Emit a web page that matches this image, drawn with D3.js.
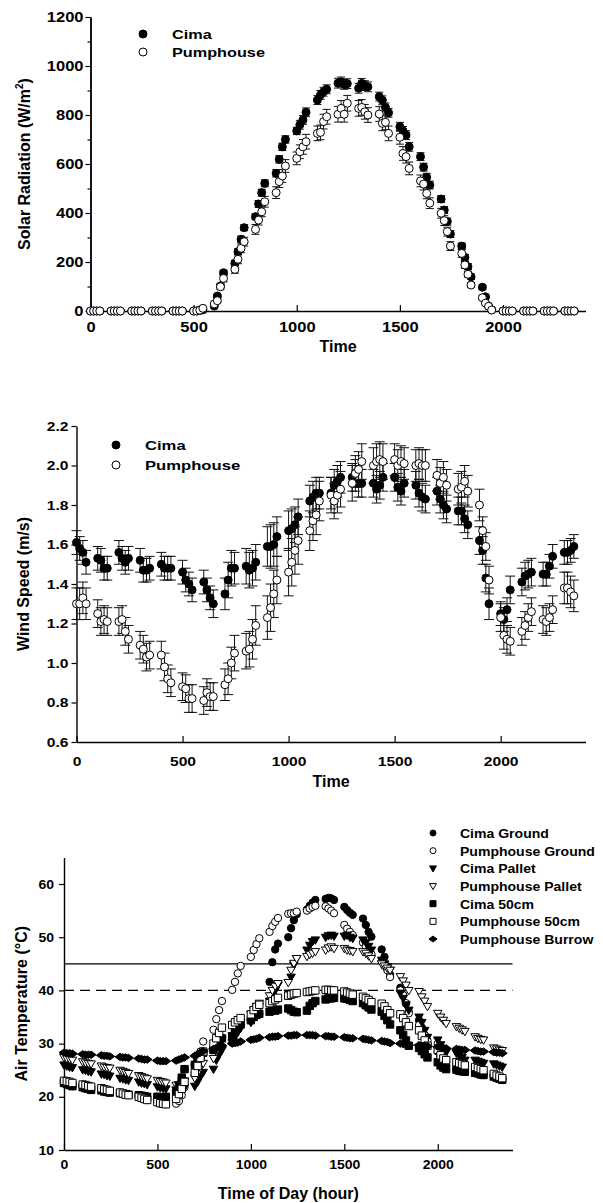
<!DOCTYPE html>
<html>
<head>
<meta charset="utf-8">
<script src="https://cdn.jsdelivr.net/npm/d3@7"></script>
<style>
  body { margin: 0; background: #fff; }
  text { font-family: "Liberation Sans", Arial, sans-serif; font-weight: bold; fill: #000; }
  .tk-y { transform-box: fill-box; transform-origin: right center; }
  .tk-x { transform-box: fill-box; transform-origin: center; }
  .lg { transform-box: fill-box; transform-origin: left center; }
</style>
</head>
<body>
<svg id="chart" width="603" height="1203"></svg>
<script>
// clock time (HHMM), one reading every 15 min
const times = [
  0, 15, 30, 45, 100, 115, 130, 145, 200, 215, 230, 245, 300, 315, 330, 345,
  400, 415, 430, 445, 500, 515, 530, 545, 600, 615, 630, 645, 700, 715, 730, 745,
  800, 815, 830, 845, 900, 915, 930, 945, 1000, 1015, 1030, 1045, 1100, 1115, 1130, 1145,
  1200, 1215, 1230, 1245, 1300, 1315, 1330, 1345, 1400, 1415, 1430, 1445, 1500, 1515, 1530, 1545,
  1600, 1615, 1630, 1645, 1700, 1715, 1730, 1745, 1800, 1815, 1830, 1845, 1900, 1915, 1930, 1945,
  2000, 2015, 2030, 2045, 2100, 2115, 2130, 2145, 2200, 2215, 2230, 2245, 2300, 2315, 2330, 2345
];
const xTicks = [0, 500, 1000, 1500, 2000];

// ---- solar radiation (W/m2)
const solarCima = [
  0, 0, 0, 0, 0, 0, 0, 0, 0, 0, 0, 0, 0, 0, 0, 0,
  0, 0, 0, 0, 0, 0, 2, 5, 20, 61, 102, 156, 195, 242, 293, 340,
  385, 437, 483, 521, 562, 619, 670, 700, 735, 760, 780, 811, 861, 882, 895, 905,
  930, 935, 925, 928, 909, 929, 920, 915, 875, 860, 831, 809, 752, 735, 718, 670,
  630, 587, 546, 514, 457, 412, 365, 314, 265, 219, 181, 140, 97, 58, 20, 5,
  0, 0, 0, 0, 0, 0, 0, 0, 0, 0, 0, 0, 0, 0, 0, 0
];
const solarCimaErr = [
  0, 0, 0, 0, 0, 0, 0, 0, 0, 0, 0, 0, 0, 0, 0, 0,
  0, 0, 0, 0, 0, 0, 0, 0, 4, 6, 8, 10, 12, 12, 12, 12,
  12, 14, 14, 14, 15, 15, 15, 15, 15, 18, 18, 18, 18, 18, 18, 18,
  20, 20, 20, 20, 20, 20, 20, 20, 18, 18, 18, 18, 18, 18, 18, 18,
  16, 16, 16, 16, 14, 14, 14, 14, 12, 12, 12, 10, 8, 6, 4, 0,
  0, 0, 0, 0, 0, 0, 0, 0, 0, 0, 0, 0, 0, 0, 0, 0
];
const solarPump = [
  0, 0, 0, 0, 0, 0, 0, 0, 0, 0, 0, 0, 0, 0, 0, 0,
  0, 0, 0, 0, 0, 0, 3, 11, 29, 42, 99, 133, 170, 211, 256, 283,
  333, 371, 405, 446, 483, 528, 551, 592, 623, 650, 670, 691, 725, 729, 773, 793,
  803, 827, 803, 848, 827, 831, 813, 800, 804, 766, 770, 725, 709, 643, 630, 582,
  531, 518, 480, 440, 399, 369, 324, 265, 235, 188, 150, 106, 54, 32, 19, 4,
  0, 0, 0, 0, 0, 0, 0, 0, 0, 0, 0, 0, 0, 0, 0, 0
];
const solarPumpErr = [
  0, 0, 0, 0, 0, 0, 0, 0, 0, 0, 0, 0, 0, 0, 0, 0,
  0, 0, 0, 0, 0, 0, 0, 0, 5, 8, 12, 14, 16, 18, 18, 18,
  20, 20, 20, 22, 24, 24, 26, 26, 26, 28, 30, 30, 30, 30, 30, 30,
  32, 32, 32, 32, 32, 32, 30, 30, 30, 30, 30, 30, 28, 28, 26, 26,
  24, 24, 22, 22, 20, 20, 18, 18, 16, 14, 12, 10, 8, 6, 4, 0,
  0, 0, 0, 0, 0, 0, 0, 0, 0, 0, 0, 0, 0, 0, 0, 0
];

// ---- wind speed (m/s)
const windCima = [
  1.61, 1.58, 1.56, 1.51, 1.53, 1.52, 1.48, 1.48, 1.56, 1.53, 1.51, 1.53, 1.52, 1.47, 1.47, 1.48,
  1.50, 1.48, 1.48, 1.48, 1.46, 1.42, 1.40, 1.37, 1.41, 1.37, 1.33, 1.30, 1.35, 1.42, 1.48, 1.48,
  1.49, 1.47, 1.48, 1.51, 1.59, 1.59, 1.60, 1.64, 1.67, 1.68, 1.70, 1.74, 1.82, 1.84, 1.86, 1.86,
  1.86, 1.90, 1.92, 1.94, 1.94, 1.96, 1.91, 1.91, 1.91, 1.88, 1.90, 1.94, 1.94, 1.89, 1.87, 1.91,
  1.90, 1.86, 1.84, 1.83, 1.87, 1.83, 1.80, 1.78, 1.77, 1.77, 1.73, 1.70, 1.62, 1.57, 1.43, 1.30,
  1.25, 1.22, 1.27, 1.37, 1.41, 1.44, 1.45, 1.46, 1.45, 1.45, 1.49, 1.54, 1.56, 1.56, 1.57, 1.59
];
const windCimaErr = [
  .06, .06, .06, .06, .06, .06, .06, .06, .06, .06, .06, .06, .06, .06, .06, .06,
  .06, .06, .06, .06, .06, .06, .06, .06, .06, .06, .06, .07, .08, .09, .09, .08,
  .09, .09, .09, .09, .10, .11, .11, .10, .10, .10, .09, .09, .08, .08, .08, .08,
  .08, .08, .08, .08, .07, .07, .07, .07, .07, .07, .07, .07, .07, .07, .07, .07,
  .07, .07, .07, .07, .07, .07, .07, .07, .07, .07, .07, .07, .07, .07, .07, .08,
  .06, .06, .06, .07, .07, .07, .07, .07, .06, .06, .06, .06, .06, .06, .06, .06
];
const windPump = [
  1.30, 1.30, 1.33, 1.30, 1.25, 1.21, 1.22, 1.21, 1.21, 1.22, 1.16, 1.12, 1.09, 1.07, 1.03, 1.04,
  1.04, 0.98, 0.92, 0.90, 0.88, 0.87, 0.82, 0.82, 0.81, 0.85, 0.83, 0.83, 0.89, 0.92, 1.00, 1.05,
  1.06, 1.07, 1.12, 1.19, 1.23, 1.28, 1.35, 1.42, 1.46, 1.51, 1.57, 1.62, 1.67, 1.72, 1.75, 1.82,
  1.85, 1.82, 1.85, 1.88, 1.91, 1.96, 1.98, 2.02, 2.00, 2.02, 2.03, 2.02, 2.03, 2.00, 2.02, 2.01,
  2.00, 2.01, 2.00, 2.00, 1.95, 1.91, 1.94, 1.90, 1.88, 1.89, 1.92, 1.87, 1.80, 1.67, 1.59, 1.42,
  1.23, 1.14, 1.12, 1.11, 1.16, 1.19, 1.23, 1.26, 1.22, 1.21, 1.23, 1.27, 1.38, 1.38, 1.36, 1.34
];
const windPumpErr = [
  .08, .08, .08, .08, .07, .07, .07, .07, .07, .07, .07, .07, .07, .07, .07, .07,
  .07, .07, .07, .07, .07, .07, .07, .07, .07, .07, .07, .07, .08, .08, .08, .09,
  .09, .09, .10, .10, .11, .12, .12, .12, .12, .12, .12, .12, .10, .10, .10, .10,
  .09, .09, .09, .09, .09, .09, .09, .09, .09, .09, .09, .09, .08, .08, .08, .08,
  .08, .08, .08, .08, .08, .08, .08, .08, .08, .08, .08, .08, .08, .07, .07, .07,
  .07, .07, .07, .07, .07, .07, .07, .07, .07, .07, .07, .07, .08, .08, .08, .08
];

// ---- air temperature (°C)
const cimaGround = [
  22.6, 22.4, 22.2, 22.0, 21.8, 21.6, 21.5, 21.3, 21.2, 21.0, 20.9, 20.8, 20.7, 20.6, 20.5, 20.4,
  20.3, 20.2, 20.1, 20.0, 20.0, 19.9, 19.9, 20.0, 20.8, 22.0, 23.6, 25.2, 26.0, 26.8, 27.6, 28.3,
  28.8, 29.5, 30.3, 31.0, 31.3, 32.2, 33.0, 33.6, 34.4, 35.0, 35.4, 35.6, 41.6, 45.3, 47.7, 48.8,
  50.0, 51.7, 53.2, 54.3, 55.2, 55.9, 56.5, 57.0, 57.2, 57.4, 57.3, 57.0, 55.7, 55.1, 54.6, 54.2,
  53.5, 52.3, 51.0, 50.1, 47.7, 46.3, 44.5, 42.9, 40.5, 39.1, 37.5, 36.0, 34.4, 33.0, 31.5, 30.0,
  28.5, 27.5, 26.8, 26.0, 25.1, 24.9, 24.8, 24.7, 24.5, 24.4, 24.2, 24.1, 23.8, 23.6, 23.4, 23.2
];
const pumpGround = [
  23.0, 22.9, 22.8, 22.6, 22.3, 22.2, 22.0, 21.9, 21.6, 21.4, 21.3, 21.1, 20.8, 20.6, 20.4, 20.3,
  20.0, 19.8, 19.6, 19.4, 19.0, 18.8, 18.7, 18.6, 18.7, 19.2, 20.3, 21.8, 24.5, 26.5, 28.5, 30.4,
  32.6, 34.6, 36.3, 38.0, 40.1, 41.6, 43.2, 44.6, 46.3, 47.6, 48.7, 49.8, 51.0, 52.1, 52.9, 53.6,
  54.4, 54.5, 54.5, 54.8, 55.0, 55.4, 55.7, 55.9, 55.8, 55.4, 55.0, 54.5, 52.3, 51.6, 51.0, 50.4,
  49.0, 48.2, 47.6, 46.8, 45.5, 44.6, 43.8, 42.5, 40.0, 39.1, 37.6, 35.7, 33.5, 32.3, 31.6, 30.6,
  30.0, 28.5, 27.3, 26.6, 26.2, 25.8, 25.5, 25.3, 25.0, 24.7, 24.5, 24.3, 24.0, 23.8, 23.6, 23.4
];
const cimaPallet = [
  26.0, 25.8, 25.6, 25.5, 25.1, 25.0, 24.8, 24.7, 24.3, 24.2, 24.0, 23.9, 23.5, 23.4, 23.2, 23.1,
  22.8, 22.6, 22.5, 22.3, 21.9, 21.7, 21.6, 21.5, 21.3, 21.3, 21.5, 21.8, 22.0, 22.8, 23.8, 24.6,
  25.2, 26.9, 27.9, 28.8, 30.2, 31.3, 32.2, 32.9, 34.0, 35.0, 36.0, 37.0, 38.0, 39.0, 40.0, 41.0,
  39.5, 42.5, 44.8, 46.0, 47.6, 48.5, 49.2, 49.5, 50.0, 50.3, 50.4, 50.2, 50.2, 50.4, 50.0, 49.8,
  49.5, 49.0, 48.3, 47.6, 45.7, 45.0, 44.5, 43.8, 39.5, 38.5, 37.3, 36.3, 35.0, 34.0, 32.5, 31.2,
  30.7, 29.8, 29.0, 28.4, 28.2, 27.8, 27.4, 26.9, 26.9, 26.7, 26.5, 26.3, 26.2, 26.0, 25.8, 25.6
];
const pumpPallet = [
  27.4, 27.2, 27.1, 26.9, 26.6, 26.4, 26.3, 26.2, 25.8, 25.6, 25.5, 25.4, 25.0, 24.8, 24.6, 24.4,
  24.0, 23.8, 23.6, 23.4, 23.1, 22.9, 22.8, 22.6, 22.2, 22.3, 22.6, 23.0, 23.5, 24.5, 25.5, 26.3,
  27.2, 28.5, 29.7, 30.7, 31.5, 32.5, 33.3, 34.0, 35.5, 36.3, 37.0, 37.6, 39.0, 40.0, 40.8, 41.3,
  41.5, 43.8, 45.1, 46.0, 46.4, 46.8, 47.0, 47.3, 47.6, 48.0, 48.2, 47.9, 47.9, 47.6, 47.5, 47.3,
  47.3, 47.0, 46.5, 46.0, 45.0, 44.6, 44.2, 43.8, 42.6, 41.8, 41.0, 40.0, 39.8, 38.8, 38.0, 37.0,
  35.7, 35.0, 34.4, 33.8, 33.2, 32.9, 32.6, 32.3, 31.3, 31.0, 30.8, 30.7, 29.2, 29.0, 28.8, 28.7
];
const cima50 = [
  22.6, 22.4, 22.2, 22.0, 21.8, 21.6, 21.5, 21.3, 21.2, 21.0, 20.9, 20.8, 20.7, 20.6, 20.5, 20.4,
  20.3, 20.2, 20.1, 20.0, 20.0, 19.9, 19.9, 20.0, 20.8, 22.0, 23.6, 25.2, 26.0, 26.8, 27.6, 28.3,
  28.8, 29.5, 30.3, 31.0, 31.3, 32.2, 33.0, 33.6, 34.4, 35.0, 35.4, 35.6, 36.0, 36.3, 36.2, 36.4,
  36.6, 36.3, 36.0, 35.9, 36.2, 37.1, 37.6, 38.0, 38.3, 38.5, 38.5, 38.6, 38.5, 38.4, 38.2, 38.0,
  37.6, 37.2, 36.8, 36.4, 36.0, 35.2, 34.4, 33.6, 32.5, 31.6, 30.6, 29.6, 29.2, 28.6, 28.0, 27.4,
  26.5, 25.9, 25.5, 25.2, 25.1, 24.9, 24.8, 24.7, 24.5, 24.4, 24.2, 24.1, 23.8, 23.6, 23.4, 23.2
];
const pump50 = [
  23.0, 22.9, 22.8, 22.6, 22.3, 22.2, 22.0, 21.9, 21.6, 21.4, 21.3, 21.1, 20.8, 20.6, 20.4, 20.3,
  20.0, 19.8, 19.6, 19.4, 19.0, 18.8, 18.7, 18.6, 19.6, 20.5, 21.5, 22.8, 24.5, 25.8, 27.3, 28.5,
  30.0, 31.0, 32.0, 33.0, 33.5, 34.0, 34.4, 34.8, 35.5, 36.3, 36.9, 37.3, 37.6, 38.0, 38.3, 38.6,
  39.0, 39.2, 39.4, 39.5, 39.7, 39.8, 39.9, 40.0, 40.1, 40.1, 40.0, 40.0, 39.8, 39.6, 39.4, 39.2,
  38.8, 38.5, 38.2, 37.8, 37.5, 37.0, 36.3, 35.7, 35.5, 34.8, 34.0, 33.3, 32.5, 31.5, 30.6, 29.6,
  28.8, 27.8, 27.2, 26.9, 26.5, 26.3, 26.1, 25.9, 25.6, 25.4, 25.2, 25.0, 24.3, 24.0, 23.8, 23.5
];
const pumpBurrow = [
  28.3, 28.2, 28.2, 28.1, 28.0, 27.9, 27.9, 27.9, 27.8, 27.7, 27.7, 27.6, 27.5, 27.4, 27.4, 27.3,
  27.2, 27.1, 27.0, 27.0, 26.8, 26.7, 26.7, 26.7, 26.8, 27.0, 27.2, 27.4, 27.7, 28.0, 28.3, 28.6,
  29.0, 29.2, 29.4, 29.6, 30.0, 30.1, 30.2, 30.4, 30.7, 30.8, 30.9, 31.1, 31.2, 31.3, 31.3, 31.4,
  31.5, 31.5, 31.6, 31.6, 31.6, 31.6, 31.6, 31.5, 31.4, 31.4, 31.3, 31.3, 31.2, 31.1, 31.0, 31.0,
  30.9, 30.8, 30.7, 30.6, 30.5, 30.4, 30.3, 30.1, 30.0, 29.9, 29.8, 29.7, 29.7, 29.6, 29.6, 29.5,
  29.4, 29.3, 29.2, 29.1, 29.0, 28.9, 28.8, 28.8, 28.7, 28.6, 28.5, 28.5, 28.4, 28.3, 28.3, 28.2
];
const tempSeries = [
  { name: 'Cima Ground', values: cimaGround, shape: 'circle', filled: true },
  { name: 'Pumphouse Ground', values: pumpGround, shape: 'circle', filled: false },
  { name: 'Cima Pallet', values: cimaPallet, shape: 'triangle', filled: true },
  { name: 'Pumphouse Pallet', values: pumpPallet, shape: 'triangle', filled: false },
  { name: 'Cima 50cm', values: cima50, shape: 'square', filled: true },
  { name: 'Pumphouse 50cm', values: pump50, shape: 'square', filled: false },
  { name: 'Pumphouse Burrow', values: pumpBurrow, shape: 'diamond', filled: true }
];

const svg = d3.select('#chart');

const shapes = {
  circle: s => d3.symbol(d3.symbolCircle, Math.PI * s * s)(),
  square: s => `M${-s},${-s}H${s}V${s}H${-s}Z`,
  triangle: s => `M${-s * 1.15},${-s * 0.8}H${s * 1.15}L0,${s * 1.2}Z`,
  diamond: s => `M${-s * 1.35},0L0,${-s}L${s * 1.35},0L0,${s}Z`
};

function styleAxis(g, cls, size, stretch) {
  g.attr('font-family', null).attr('font-size', size);
  g.select('.domain').attr('stroke', '#000').attr('stroke-width', 1.4);
  g.selectAll('.tick line').attr('stroke', '#000').attr('stroke-width', 1.2);
  g.selectAll('.tick text')
    .attr('class', cls)
    .attr('fill', '#000')
    .style('transform', `scaleX(${stretch})`);
}

function makePanel(o) {
  const x = d3.scaleLinear().domain([0, 2400]).range(o.xRange);
  const y = d3.scaleLinear().domain(o.yDomain).range(o.yRange);
  const g = svg.append('g');

  g.append('g')
    .attr('transform', `translate(0,${o.yRange[0]})`)
    .call(d3.axisBottom(x).tickValues(xTicks).tickFormat(d3.format('d'))
      .tickSize(-6).tickSizeOuter(0).tickPadding(o.xPad))
    .call(styleAxis, 'tk-x', o.tickFont, o.stretch);

  if (o.yMinor) {
    g.append('g')
      .attr('transform', `translate(${o.xRange[0]},0)`)
      .call(d3.axisLeft(y).tickValues(o.yMinor).tickFormat('').tickSize(3).tickSizeOuter(0))
      .call(styleAxis, 'tk-y', o.tickFont, o.stretch);
  }
  g.append('g')
    .attr('transform', `translate(${o.xRange[0]},0)`)
    .call(d3.axisLeft(y).tickValues(o.yTicks).tickFormat(o.yFormat)
      .tickSize(5).tickSizeOuter(0).tickPadding(o.yPad))
    .call(styleAxis, 'tk-y', o.tickFont, o.stretch);

  // axis titles
  g.append('text')
    .attr('x', (o.xRange[0] + o.xRange[1]) / 2)
    .attr('y', o.xTitleY)
    .attr('text-anchor', 'middle')
    .attr('font-size', 16)
    .text(o.xTitle);

  const yt = g.append('text')
    .attr('transform', `translate(${o.yTitleX},${(o.yRange[0] + o.yRange[1]) / 2}) rotate(-90)`)
    .attr('text-anchor', 'middle')
    .attr('font-size', 16);
  o.yTitle(yt);

  return { g, x, y };
}

function errorBars(p, vals, errs, cap) {
  const data = times.map((t, i) => ({ t, v: vals[i], e: errs[i] })).filter(d => d.e > 0);
  p.g.append('g')
    .selectAll('path')
    .data(data)
    .join('path')
    .attr('d', d => {
      const cx = p.x(d.t), y1 = p.y(d.v + d.e), y0 = p.y(d.v - d.e);
      return `M${cx},${y0}V${y1}M${cx - cap},${y1}H${cx + cap}M${cx - cap},${y0}H${cx + cap}`;
    })
    .attr('fill', 'none')
    .attr('stroke', '#111')
    .attr('stroke-width', 1);
}

function markers(p, vals, shape, filled, size) {
  p.g.append('g')
    .selectAll('path')
    .data(times.map((t, i) => ({ t, v: vals[i] })))
    .join('path')
    .attr('transform', d => `translate(${p.x(d.t)},${p.y(d.v)})`)
    .attr('d', shapes[shape](size))
    .attr('fill', filled ? '#000' : '#fff')
    .attr('stroke', '#000')
    .attr('stroke-width', 1);
}

function legend(p, items, o) {
  items.forEach((it, i) => {
    const yy = o.y0 + i * o.step;
    p.g.append('path')
      .attr('transform', `translate(${o.mx},${yy})`)
      .attr('d', shapes[it.shape](o.size))
      .attr('fill', it.filled ? '#000' : '#fff')
      .attr('stroke', '#000')
      .attr('stroke-width', 1);
    p.g.append('text')
      .attr('class', 'lg')
      .attr('x', o.tx)
      .attr('y', yy + o.font * 0.36)
      .attr('font-size', o.font)
      .style('transform', `scaleX(${o.stretch})`)
      .text(it.name);
  });
}

// ---------- panel 1: solar radiation
const p1 = makePanel({
  xRange: [90.5, 585.5], yDomain: [0, 1200], yRange: [311, 17],
  yTicks: d3.range(0, 1201, 200), yMinor: d3.range(100, 1200, 200),
  yFormat: d3.format('d'), xPad: 11, yPad: 2, tickFont: 14, stretch: 1.18,
  xTitle: 'Time', xTitleY: 352, yTitleX: 30,
  yTitle: t => {
    t.append('tspan').text('Solar Radiation (W/m');
    t.append('tspan').attr('font-size', 10).attr('dy', -7).text('2');
    t.append('tspan').attr('dy', 7).text(')');
  }
});
errorBars(p1, solarCima, solarCimaErr, 4);
markers(p1, solarCima, 'circle', true, 4);
errorBars(p1, solarPump, solarPumpErr, 4);
markers(p1, solarPump, 'circle', false, 4);
legend(p1, [
  { name: 'Cima', shape: 'circle', filled: true },
  { name: 'Pumphouse', shape: 'circle', filled: false }
], { mx: 143, tx: 172, y0: 34, step: 18, size: 4, font: 13, stretch: 1.25 });

// ---------- panel 2: wind speed
const p2 = makePanel({
  xRange: [76.5, 585.5], yDomain: [0.6, 2.2], yRange: [742, 426],
  yTicks: d3.range(0.6, 2.21, 0.2), yMinor: null,
  yFormat: d3.format('.1f'), xPad: 15, yPad: 3, tickFont: 12.5, stretch: 1.25,
  xTitle: 'Time', xTitleY: 787, yTitleX: 29,
  yTitle: t => t.text('Wind Speed (m/s)')
});
errorBars(p2, windCima, windCimaErr, 5);
markers(p2, windCima, 'circle', true, 4);
errorBars(p2, windPump, windPumpErr, 5);
markers(p2, windPump, 'circle', false, 4);
legend(p2, [
  { name: 'Cima', shape: 'circle', filled: true },
  { name: 'Pumphouse', shape: 'circle', filled: false }
], { mx: 116, tx: 145, y0: 445, step: 20, size: 4, font: 13, stretch: 1.28 });

// ---------- panel 3: air temperature
const p3 = makePanel({
  xRange: [64, 512.5], yDomain: [10, 65], yRange: [1150, 857.4],
  yTicks: d3.range(10, 61, 10), yMinor: null,
  yFormat: d3.format('d'), xPad: 10, yPad: 5, tickFont: 13, stretch: 1.08,
  xTitle: 'Time of Day (hour)', xTitleY: 1199, yTitleX: 27,
  yTitle: t => t.text('Air Temperature (°C)')
});
p3.g.append('line')
  .attr('x1', p3.x(0)).attr('x2', p3.x(2400))
  .attr('y1', p3.y(45)).attr('y2', p3.y(45))
  .attr('stroke', '#000').attr('stroke-width', 1.3);
p3.g.append('line')
  .attr('x1', p3.x(0)).attr('x2', p3.x(2400))
  .attr('y1', p3.y(40)).attr('y2', p3.y(40))
  .attr('stroke', '#000').attr('stroke-width', 1.3)
  .attr('stroke-dasharray', '10,6');
tempSeries.forEach(s => markers(p3, s.values, s.shape, s.filled, 3.7));
legend(p3, tempSeries, { mx: 433, tx: 460, y0: 833, step: 17.67, size: 3, font: 13.5, stretch: 1.04 });
</script>
</body>
</html>
